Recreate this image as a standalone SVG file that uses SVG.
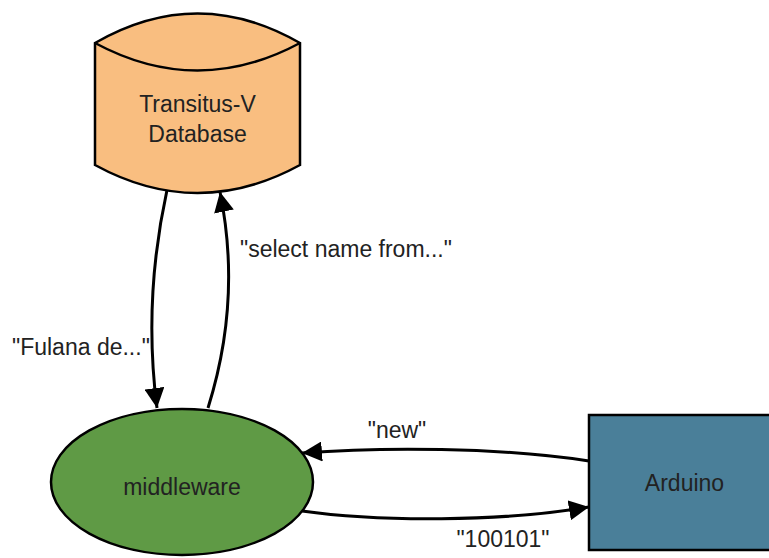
<svg xmlns="http://www.w3.org/2000/svg" width="769" height="558" viewBox="0 0 769 558">
<style>
  .lbl{font-family:"Liberation Sans",Arial,sans-serif;font-size:23px;fill:#222;}
  .mid{text-anchor:middle;}
  .node{stroke:#000;stroke-width:2.5;}
  .edge{fill:none;stroke:#000;stroke-width:3;}
</style>
<defs>
  <marker id="ah" viewBox="0 0 20 20" refX="20" refY="10" markerWidth="20" markerHeight="20" markerUnits="userSpaceOnUse" orient="auto">
    <path d="M0,0 L20,10 L0,20 z" fill="#000"/>
  </marker>
</defs>
<rect width="769" height="558" fill="#fff"/>
<g id="database">
  <path class="node" fill="#F9BE80" d="M95,43 Q197.5,-16 300,43 L300,165 Q197.5,221 95,165 Z"/>
  <path class="node" fill="none" d="M95,43 Q197.5,98 300,43"/>
  <text class="lbl mid" x="197.5" y="112">Transitus-V</text>
  <text class="lbl mid" x="197.5" y="142">Database</text>
</g>
<g id="middleware">
  <ellipse class="node" fill="#5F9A45" cx="182" cy="482" rx="131" ry="73"/>
  <text class="lbl mid" x="182" y="495">middleware</text>
</g>
<g id="arduino">
  <rect class="node" fill="#4A7F99" x="589" y="415" width="191" height="135" stroke-width="3"/>
  <text class="lbl mid" x="684.5" y="491">Arduino</text>
</g>
<g id="connectors">
  <path class="edge" marker-end="url(#ah)" d="M167,190 Q143,300 157,408"/>
  <path class="edge" marker-end="url(#ah)" d="M208,408 Q242,300 220,192"/>
  <path class="edge" marker-end="url(#ah)" d="M589,461 C500,447 380,447 302,453"/>
  <path class="edge" marker-end="url(#ah)" d="M302,511 C380,522 500,522 589,507"/>
  <text class="lbl" x="240" y="257">"select name from..."</text>
  <text class="lbl" x="12" y="355">"Fulana de..."</text>
  <text class="lbl mid" x="397" y="438">"new"</text>
  <text class="lbl mid" x="503" y="547">"100101"</text>
</g>
</svg>
